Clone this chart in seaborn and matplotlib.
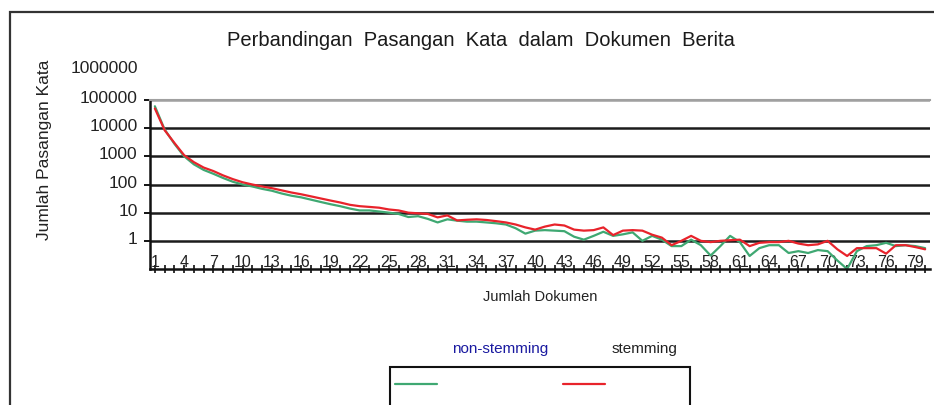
import matplotlib.pyplot as plt
import matplotlib.transforms as mtransforms
import pandas as pd
import seaborn as sns
from matplotlib.patches import Rectangle
from matplotlib.ticker import NullLocator

# data (log scale, so values are rough)
DOKUMEN = list(range(1, 81))
NON_STEMMING = [
    60000, 9000, 2800, 1000, 520, 330, 240, 170, 125, 100,
    85, 70, 60, 48, 40, 35, 29, 24, 20, 17,
    14, 12, 12, 11, 10, 9, 7, 7.5, 6, 4.5,
    5.8, 5.2, 4.8, 4.8, 4.5, 4.2, 3.8, 2.8, 1.8, 2.3,
    2.4, 2.3, 2.2, 1.4, 1.1, 1.5, 2.1, 1.5, 1.7, 2.0,
    1.0, 1.5, 1.1, 0.65, 0.65, 1.1, 0.7, 0.3, 0.65, 1.5,
    0.9, 0.29, 0.55, 0.7, 0.7, 0.37, 0.43, 0.37, 0.47, 0.43,
    0.2, 0.1, 0.43, 0.65, 0.7, 0.85, 0.65, 0.7, 0.65, 0.55,
]
STEMMING = [
    50000, 8500, 3000, 1100, 620, 400, 300, 210, 155, 120,
    100, 85, 74, 62, 52, 45, 38, 32, 27, 23,
    19, 17, 16, 15, 13, 12, 10, 9.5, 9, 6.8,
    8, 5.3, 5.6, 5.8, 5.5, 5.0, 4.5, 3.8, 3.0, 2.5,
    3.2, 3.8, 3.5, 2.5, 2.3, 2.4, 3.0, 1.6, 2.3, 2.4,
    2.3, 1.65, 1.3, 0.7, 1.0, 1.5, 1.0, 0.9, 1.0, 1.05,
    1.1, 0.65, 0.85, 0.9, 0.9, 1.0, 0.8, 0.7, 0.75, 1.0,
    0.5, 0.29, 0.55, 0.55, 0.55, 0.35, 0.7, 0.7, 0.6, 0.5,
]
Y_TICKS = [1, 10, 100, 1000, 10000, 100000]
X_TICKS = list(range(1, 81, 3))

COLORS = {"non-stemming": "#3fa872", "stemming": "#e8232b"}

W, H = 934, 405

sns.set_theme(style="white")
plt.rcParams["font.family"] = ["Liberation Sans", "DejaVu Sans"]

df = pd.DataFrame({"Dokumen": DOKUMEN,
                   "non-stemming": NON_STEMMING,
                   "stemming": STEMMING})
df = df.melt(id_vars="Dokumen", var_name="Seri", value_name="Jumlah")

fig = plt.figure(figsize=(W / 100, H / 100), dpi=100)
ax = fig.add_axes([150 / W, 1 - 269 / H, 780 / W, 169 / H])

sns.lineplot(data=df, x="Dokumen", y="Jumlah", hue="Seri", palette=COLORS,
             linewidth=1.6, legend=False, ax=ax)

ax.set_yscale("log")
ax.set_ylim(0.1, 100000)
ax.set_xlim(0.5, 80.5)
ax.set_yticks(Y_TICKS)
ax.set_yticklabels([str(v) for v in Y_TICKS])
ax.yaxis.set_minor_locator(NullLocator())
ax.set_xticks(X_TICKS)
ax.set_xticks(DOKUMEN, minor=True)
ax.set_xlabel("")
ax.set_ylabel("")

ax.yaxis.grid(True, color="#1c1c1c", linewidth=1.8)
ax.get_ygridlines()[-1].set_color("#a0a0a0")
ax.xaxis.grid(False)

for side in ["left", "bottom"]:
    ax.spines[side].set_color("#111111")
    ax.spines[side].set_linewidth(1.8)
ax.spines["top"].set_color("#a0a0a0")
ax.spines["top"].set_linewidth(1.5)
ax.spines["right"].set_visible(False)

ax.tick_params(axis="y", which="major", direction="out", length=4, width=1.4,
               color="#111111", labelsize=12.5, pad=5, labelcolor="#222222", left=True)
ax.tick_params(axis="x", which="both", direction="inout", length=6, width=1.2,
               color="#111111", bottom=True)
ax.tick_params(axis="x", which="major", labelsize=11.5, pad=-13, labelcolor="#222222")

# y labels sit a little above their gridlines in the original
shift = mtransforms.ScaledTranslation(0, 3 / 100, fig.dpi_scale_trans)
for lab in ax.get_yticklabels():
    lab.set_transform(lab.get_transform() + shift)

# the top label sits above the plotted range in the original
ax.text(-12 / 780, 1000000, "1000000", transform=ax.get_yaxis_transform() + shift,
        ha="right", va="center", fontsize=12.5, color="#222222", clip_on=False)

fig.text(481 / W, 1 - 40 / H, "Perbandingan  Pasangan  Kata  dalam  Dokumen  Berita",
         ha="center", va="center", fontsize=14.5, color="#1a1a1a")
fig.text(45 / W, 1 - 150 / H, "Jumlah Pasangan Kata", rotation=90,
         ha="center", va="center", fontsize=12.5, color="#222222")
fig.text(540 / W, 1 - 297 / H, "Jumlah Dokumen", ha="center", va="center",
         fontsize=10.5, color="#222222")

# legend: names above, line samples inside a box below
fig.text(500 / W, 1 - 349 / H, "non-stemming", ha="center", va="center",
         fontsize=11, color="#1a1aa0")
fig.text(645 / W, 1 - 349 / H, "stemming", ha="center", va="center",
         fontsize=11, color="#222222")
lines = ax.get_lines()[:2]
fs_px = 10 * 100 / 72
fig.legend(lines, ["", ""], loc="center left", bbox_to_anchor=(395 / W, 1 - 385 / H),
           ncol=2, frameon=False, fontsize=10, borderpad=0, borderaxespad=0,
           handlelength=42 / fs_px, handletextpad=0, columnspacing=126 / fs_px)
fig.add_artist(Rectangle((390 / W, -0.05), 300 / W, 1 - 367 / H + 0.05,
                         transform=fig.transFigure, fill=False,
                         edgecolor="#111111", linewidth=1.5))

# outer chart frame
fig.add_artist(Rectangle((10 / W, -0.1), 1.0, 1 - 12 / H + 0.1,
                         transform=fig.transFigure, fill=False,
                         edgecolor="#333333", linewidth=1.6))

fig.savefig("out.png", dpi=100)
